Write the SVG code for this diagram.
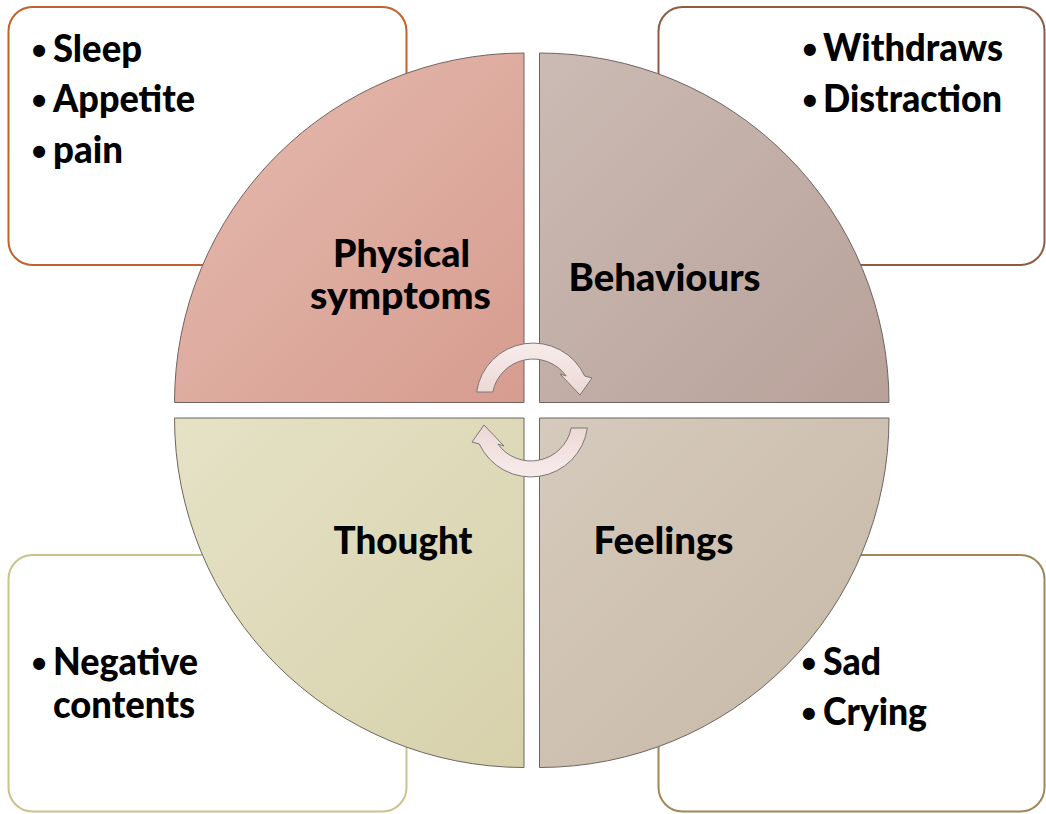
<svg xmlns="http://www.w3.org/2000/svg" width="1046" height="814" viewBox="0 0 1046 814">
<style>
  .box { fill: #ffffff; stroke-width: 2; }
  .quad { stroke: #6f6560; stroke-width: 1; }
  .lbl { font-family: Lato, "Open Sans", sans-serif; font-weight: 900; font-size: 37px; fill: #000000; }
  .mid { text-anchor: middle; }
  .bt { font-family: "Liberation Sans", Arial, sans-serif; font-weight: bold; font-size: 42px; }
  .arrow { fill: url(#gArrow); stroke: #7d7676; stroke-width: 1; }
</style>
<defs>
  <linearGradient id="gTL" x1="0" y1="0" x2="1" y2="1">
    <stop offset="0" stop-color="#e6bbb0"/>
    <stop offset="1" stop-color="#d69c8f"/>
  </linearGradient>
  <linearGradient id="gTR" x1="0" y1="0" x2="1" y2="1">
    <stop offset="0" stop-color="#cbbbb4"/>
    <stop offset="1" stop-color="#b8a199"/>
  </linearGradient>
  <linearGradient id="gBL" x1="0" y1="0" x2="1" y2="1">
    <stop offset="0" stop-color="#e5e2c6"/>
    <stop offset="1" stop-color="#d7d1ab"/>
  </linearGradient>
  <linearGradient id="gBR" x1="0" y1="0" x2="1" y2="1">
    <stop offset="0" stop-color="#d5cabc"/>
    <stop offset="1" stop-color="#c7b8a6"/>
  </linearGradient>
  <linearGradient id="gArrow" x1="0" y1="0" x2="0" y2="1">
    <stop offset="0" stop-color="#f7eceb"/>
    <stop offset="1" stop-color="#ecd8d5"/>
  </linearGradient>
</defs>

<g id="box-physical">
  <rect class="box" x="8.5" y="7" width="398" height="258" rx="24" stroke="#c2612d"/>
  <text class="lbl"><tspan class="bt" x="31.7" y="65">•</tspan><tspan x="53" y="62" textLength="89" lengthAdjust="spacingAndGlyphs">Sleep</tspan></text>
  <text class="lbl"><tspan class="bt" x="31.7" y="115">•</tspan><tspan x="53" y="112" textLength="142" lengthAdjust="spacingAndGlyphs">Appetite</tspan></text>
  <text class="lbl"><tspan class="bt" x="31.7" y="166">•</tspan><tspan x="53" y="163" textLength="70" lengthAdjust="spacingAndGlyphs">pain</tspan></text>
</g>
<g id="box-behaviours">
  <rect class="box" x="658.5" y="7" width="386" height="258" rx="24" stroke="#8e5c45"/>
  <text class="lbl"><tspan class="bt" x="802.6" y="64">•</tspan><tspan x="823" y="61" textLength="180" lengthAdjust="spacingAndGlyphs">Withdraws</tspan></text>
  <text class="lbl"><tspan class="bt" x="802.6" y="115">•</tspan><tspan x="823" y="112" textLength="179" lengthAdjust="spacingAndGlyphs">Distraction</tspan></text>
</g>
<g id="box-thought">
  <rect class="box" x="8.5" y="555" width="398" height="256.5" rx="24" stroke="#cbc28e"/>
  <text class="lbl"><tspan class="bt" x="31.7" y="678">•</tspan><tspan x="53" y="675" textLength="145" lengthAdjust="spacingAndGlyphs">Negative</tspan><tspan x="53" y="718" textLength="142" lengthAdjust="spacingAndGlyphs">contents</tspan></text>
</g>
<g id="box-feelings">
  <rect class="box" x="658.5" y="555" width="386" height="256.5" rx="24" stroke="#a08658"/>
  <text class="lbl"><tspan class="bt" x="801.6" y="678">•</tspan><tspan x="823" y="675" textLength="58" lengthAdjust="spacingAndGlyphs">Sad</tspan></text>
  <text class="lbl"><tspan class="bt" x="801.6" y="728">•</tspan><tspan x="823" y="725" textLength="104" lengthAdjust="spacingAndGlyphs">Crying</tspan></text>
</g>

<g id="quad-physical">
  <path class="quad" fill="url(#gTL)" d="M 524 402.5 L 174.5 402.5 A 349.5 349.5 0 0 1 524 53 Z"/>
  <text class="lbl mid" x="401.5" y="267" textLength="137" lengthAdjust="spacingAndGlyphs">Physical</text>
  <text class="lbl mid" x="400.5" y="309" textLength="181" lengthAdjust="spacingAndGlyphs">symptoms</text>
</g>
<g id="quad-behaviours">
  <path class="quad" fill="url(#gTR)" d="M 539.5 402.5 L 539.5 53 A 349.5 349.5 0 0 1 889 402.5 Z"/>
  <text class="lbl mid" x="664.5" y="291" textLength="192" lengthAdjust="spacingAndGlyphs">Behaviours</text>
</g>
<g id="quad-thought">
  <path class="quad" fill="url(#gBL)" d="M 524 418 L 524 767.5 A 349.5 349.5 0 0 1 174.5 418 Z"/>
  <text class="lbl mid" x="403" y="554" textLength="139" lengthAdjust="spacingAndGlyphs">Thought</text>
</g>
<g id="quad-feelings">
  <path class="quad" fill="url(#gBR)" d="M 539.5 418 L 889 418 A 349.5 349.5 0 0 1 539.5 767.5 Z"/>
  <text class="lbl mid" x="663.5" y="554" textLength="140" lengthAdjust="spacingAndGlyphs">Feelings</text>
</g>

<g id="connectors">
  <path class="arrow" d="M 476.6 392 A 57 57 0 0 1 584.7 376 L 592 378 L 580 395 L 560 374 L 566.2 376 A 41 41 0 0 0 492.8 392 Z"/>
  <path class="arrow" transform="rotate(180 532 410)" d="M 476.6 392 A 57 57 0 0 1 584.7 376 L 592 378 L 580 395 L 560 374 L 566.2 376 A 41 41 0 0 0 492.8 392 Z"/>
</g>
</svg>
